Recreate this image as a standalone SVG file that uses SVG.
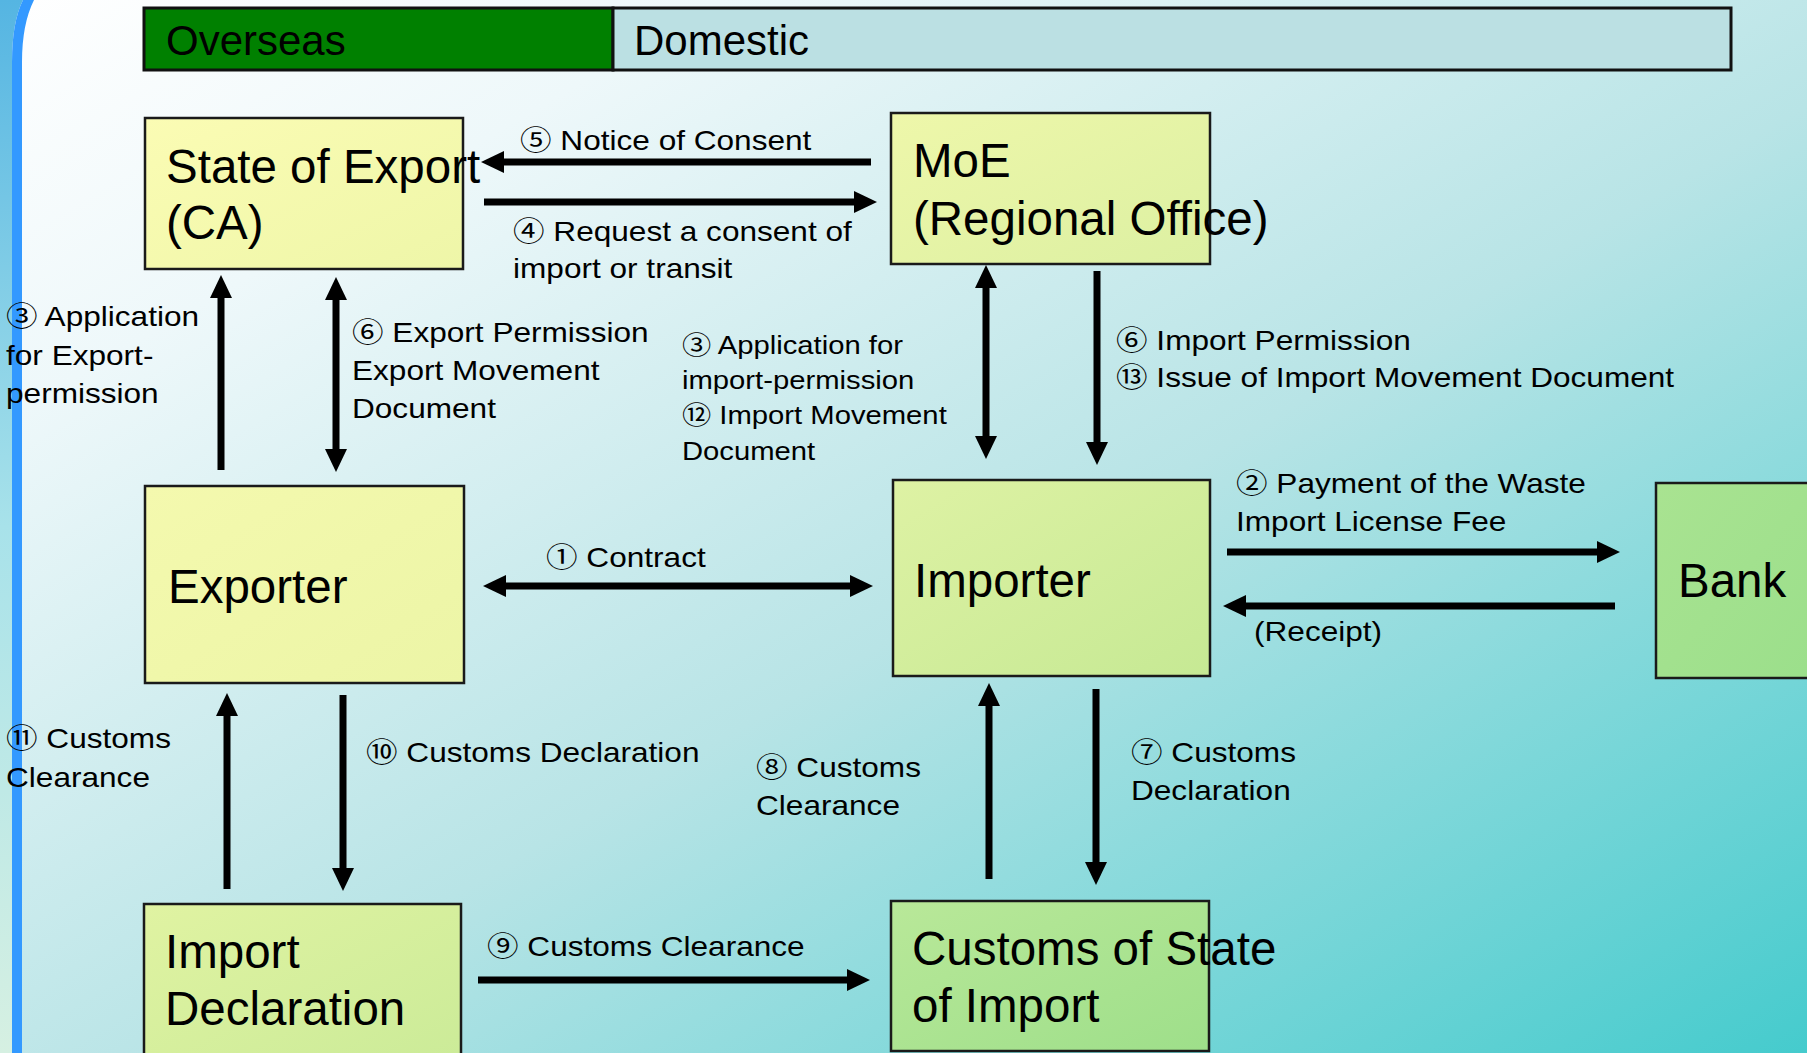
<svg xmlns="http://www.w3.org/2000/svg" width="1807" height="1053" viewBox="0 0 1807 1053">
<style>
.node rect{stroke:#1a1a1a;stroke-width:2.5}
.ntxt{font-family:"Liberation Sans","Noto Sans CJK JP",sans-serif;font-size:47.5px;fill:#000}
.htxt{font-family:"Liberation Sans","Noto Sans CJK JP",sans-serif;font-size:42px;fill:#000}
.lbl{font-family:"Liberation Sans","Noto Sans CJK JP",sans-serif;font-size:27px;fill:#000}
.lbls{font-family:"Liberation Sans","Noto Sans CJK JP",sans-serif;font-size:25px;fill:#000}
.conn line{stroke:#000;stroke-width:7;fill:none}
.one{marker-end:url(#ah)}
.two{marker-start:url(#ah);marker-end:url(#ah)}
</style>
<defs>
<linearGradient id="bg" x1="0" y1="0" x2="1" y2="1">
<stop offset="0" stop-color="#ffffff"/>
<stop offset="0.2" stop-color="#eef8fa"/>
<stop offset="0.55" stop-color="#b8e4e6"/>
<stop offset="1" stop-color="#45cbcd"/>
</linearGradient>
<linearGradient id="outer" x1="0" y1="0" x2="0" y2="1">
<stop offset="0" stop-color="#55b5e2"/>
<stop offset="0.5" stop-color="#a8e2ea"/>
<stop offset="1" stop-color="#d6f0e2"/>
</linearGradient>
<linearGradient id="gY" x1="0" y1="0" x2="1" y2="1">
<stop offset="0" stop-color="#fbfcb4"/>
<stop offset="1" stop-color="#eef6a8"/>
</linearGradient>
<linearGradient id="gY2" x1="0" y1="0" x2="1" y2="1">
<stop offset="0" stop-color="#f4f9ae"/>
<stop offset="1" stop-color="#ecf5a6"/>
</linearGradient>
<linearGradient id="gM" x1="0" y1="0" x2="1" y2="1">
<stop offset="0" stop-color="#eef7aa"/>
<stop offset="1" stop-color="#dcf0a2"/>
</linearGradient>
<linearGradient id="gI" x1="0" y1="0" x2="1" y2="1">
<stop offset="0" stop-color="#def2a4"/>
<stop offset="1" stop-color="#c6e994"/>
</linearGradient>
<linearGradient id="gD" x1="0" y1="0" x2="1" y2="1">
<stop offset="0" stop-color="#e0f3a2"/>
<stop offset="1" stop-color="#cbeb98"/>
</linearGradient>
<linearGradient id="gC" x1="0" y1="0" x2="1" y2="1">
<stop offset="0" stop-color="#b9e899"/>
<stop offset="1" stop-color="#9edf8a"/>
</linearGradient>
<linearGradient id="gB" x1="0" y1="0" x2="1" y2="1">
<stop offset="0" stop-color="#a9e391"/>
<stop offset="1" stop-color="#9bdf8b"/>
</linearGradient>
<marker id="ah" viewBox="0 0 23 22" refX="1" refY="11" markerWidth="23" markerHeight="22" markerUnits="userSpaceOnUse" orient="auto-start-reverse">
<path d="M0,0 L23,11 L0,22 Z" fill="#000"/>
</marker>
</defs>

<rect x="0" y="0" width="1807" height="1053" fill="url(#bg)"/>
<path d="M0,0 L23,0 Q12,22 12,62 L12,1053 L0,1053 Z" fill="url(#outer)"/>
<path d="M23,0 L34,0 Q22,24 22,62 L22,1053 L12,1053 L12,62 Q12,22 23,0 Z" fill="#3399ff"/>

<g id="header">
<rect x="144" y="8" width="469" height="62" fill="#008000" stroke="#111" stroke-width="3"/>
<rect x="613" y="8" width="1118" height="62" fill="#bbe0e3" stroke="#111" stroke-width="3"/>
<text class="htxt" x="166" y="55">Overseas</text>
<text class="htxt" x="634" y="55">Domestic</text>
</g>

<g id="node-state-of-export" class="node">
<rect x="145" y="118" width="318" height="151" fill="url(#gY)"/>
<text class="ntxt" x="166" y="183">State of Export</text>
<text class="ntxt" x="166" y="239">(CA)</text>
</g>
<g id="node-moe" class="node">
<rect x="891" y="113" width="319" height="151" fill="url(#gM)"/>
<text class="ntxt" x="913" y="177">MoE</text>
<text class="ntxt" x="913" y="235">(Regional Office)</text>
</g>
<g id="node-exporter" class="node">
<rect x="145" y="486" width="319" height="197" fill="url(#gY2)"/>
<text class="ntxt" x="168" y="603">Exporter</text>
</g>
<g id="node-importer" class="node">
<rect x="893" y="480" width="317" height="196" fill="url(#gI)"/>
<text class="ntxt" x="914" y="597">Importer</text>
</g>
<g id="node-bank" class="node">
<rect x="1656" y="483" width="160" height="195" fill="url(#gB)"/>
<text class="ntxt" x="1678" y="597">Bank</text>
</g>
<g id="node-import-declaration" class="node">
<rect x="144" y="904" width="317" height="160" fill="url(#gD)"/>
<text class="ntxt" x="165" y="968">Import</text>
<text class="ntxt" x="165" y="1025">Declaration</text>
</g>
<g id="node-customs" class="node">
<rect x="891" y="901" width="318" height="150" fill="url(#gC)"/>
<text class="ntxt" x="912" y="965">Customs of State</text>
<text class="ntxt" x="912" y="1022">of Import</text>
</g>

<g id="connectors" class="conn">
<line class="one" x1="871" y1="162" x2="503" y2="162"/>
<line class="one" x1="484" y1="202" x2="855" y2="202"/>
<line class="one" x1="221" y1="470" x2="221" y2="297"/>
<line class="two" x1="336" y1="299" x2="336" y2="450"/>
<line class="two" x1="505" y1="586" x2="851" y2="586"/>
<line class="two" x1="986" y1="287" x2="986" y2="437"/>
<line class="one" x1="1097" y1="271" x2="1097" y2="443"/>
<line class="one" x1="1227" y1="552" x2="1598" y2="552"/>
<line class="one" x1="1615" y1="606" x2="1245" y2="606"/>
<line class="one" x1="227" y1="889" x2="227" y2="715"/>
<line class="one" x1="343" y1="695" x2="343" y2="869"/>
<line class="one" x1="989" y1="879" x2="989" y2="705"/>
<line class="one" x1="1096" y1="689" x2="1096" y2="863"/>
<line class="one" x1="478" y1="980" x2="848" y2="980"/>
</g>

<g id="labels">
<text class="lbl" transform="translate(520,150) scale(1.17,1)">⑤ Notice of Consent</text>
<text class="lbl" transform="translate(513,241) scale(1.17,1)"><tspan x="0" y="0">④ Request a consent of</tspan><tspan x="0" y="37">import or transit</tspan></text>
<text class="lbl" transform="translate(6,326) scale(1.17,1)"><tspan x="0" y="0">③ Application</tspan><tspan x="0" y="39">for Export-</tspan><tspan x="0" y="77">permission</tspan></text>
<text class="lbl" transform="translate(352,342) scale(1.17,1)"><tspan x="0" y="0">⑥ Export Permission</tspan><tspan x="0" y="38">Export Movement</tspan><tspan x="0" y="76">Document</tspan></text>
<text class="lbls" transform="translate(682,354) scale(1.17,1)"><tspan x="0" y="0">③ Application for</tspan><tspan x="0" y="35">import-permission</tspan><tspan x="0" y="70">⑫ Import Movement</tspan><tspan x="0" y="106">Document</tspan></text>
<text class="lbl" transform="translate(1116,350) scale(1.17,1)"><tspan x="0" y="0">⑥ Import Permission</tspan><tspan x="0" y="37">⑬ Issue of Import Movement Document</tspan></text>
<text class="lbl" transform="translate(1236,493) scale(1.17,1)"><tspan x="0" y="0">② Payment of the Waste</tspan><tspan x="0" y="38">Import License Fee</tspan></text>
<text class="lbl" transform="translate(1254,641) scale(1.17,1)">(Receipt)</text>
<text class="lbl" transform="translate(546,567) scale(1.17,1)">① Contract</text>
<text class="lbl" transform="translate(6,748) scale(1.17,1)"><tspan x="0" y="0">⑪ Customs</tspan><tspan x="0" y="39">Clearance</tspan></text>
<text class="lbl" transform="translate(366,762) scale(1.17,1)">⑩ Customs Declaration</text>
<text class="lbl" transform="translate(756,777) scale(1.17,1)"><tspan x="0" y="0">⑧ Customs</tspan><tspan x="0" y="38">Clearance</tspan></text>
<text class="lbl" transform="translate(1131,762) scale(1.17,1)"><tspan x="0" y="0">⑦ Customs</tspan><tspan x="0" y="38">Declaration</tspan></text>
<text class="lbl" transform="translate(487,956) scale(1.17,1)">⑨ Customs Clearance</text>
</g>
</svg>
